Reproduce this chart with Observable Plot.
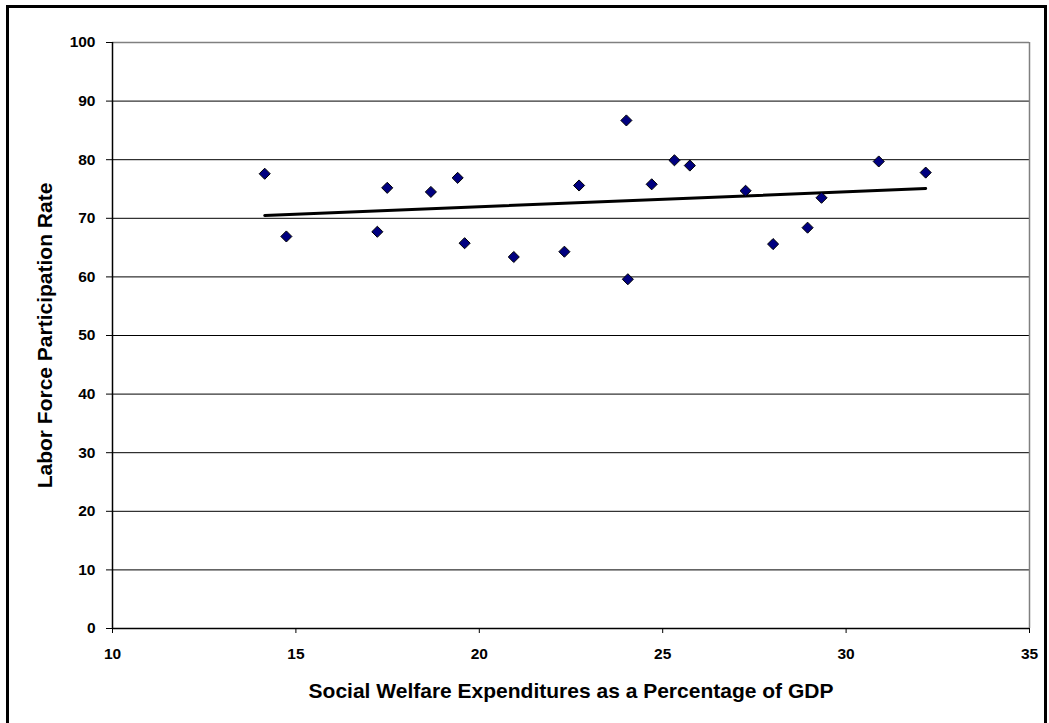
<!DOCTYPE html>
<html>
<head>
<meta charset="utf-8">
<script src="https://cdn.jsdelivr.net/npm/d3@7"></script>
<script src="https://cdn.jsdelivr.net/npm/@observablehq/plot@0.6"></script>
<style>
  html, body { margin: 0; padding: 0; background: #fff; overflow: hidden; }
  #wrap { position: relative; width: 1049px; height: 723px; overflow: hidden; }
  #border { position: absolute; left: 6px; top: 5px; width: 1041px; height: 760px; border: 3px solid #000; box-sizing: border-box; }
  #chart { position: absolute; left: 0; top: 0; }
</style>
</head>
<body>
<div id="wrap">
  <div id="border"></div>
  <div id="chart"></div>
</div>
<script>
// Social welfare expenditures (% of GDP)
const welfare = [14.15, 14.74, 17.22, 17.49, 18.68, 19.41, 19.60, 20.94, 22.32, 22.72, 24.01, 24.05, 24.70, 25.32, 25.74, 27.26, 28.01, 28.95, 29.33, 30.89, 32.17];
// Labor force participation rate
const participation = [77.6, 66.9, 67.7, 75.2, 74.5, 76.9, 65.75, 63.4, 64.3, 75.6, 86.7, 59.6, 75.8, 79.9, 79.0, 74.7, 65.6, 68.4, 73.5, 79.7, 77.8];
const xTicks = [10, 15, 20, 25, 30, 35];
const yTicks = [0, 10, 20, 30, 40, 50, 60, 70, 80, 90, 100];
const xTitle = "Social Welfare Expenditures as a Percentage of GDP";
const yTitle = "Labor Force Participation Rate";

const data = welfare.map((x, i) => ({x, y: participation[i]}));

const chart = Plot.plot({
  width: 1049,
  height: 723,
  marginLeft: 112,
  marginRight: 20,
  marginTop: 42,
  marginBottom: 95,
  style: {fontFamily: "'Liberation Sans', Arial, sans-serif", fontWeight: "bold", fontSize: "15.5px", color: "#000", background: "transparent"},
  x: {domain: [10, 35]},
  y: {domain: [0, 100]},
  marks: [
    Plot.gridY(yTicks.filter(d => d > 0 && d < 100), {stroke: "#000", strokeOpacity: 1, strokeWidth: 1}),
    Plot.ruleY([100], {stroke: "#808080", strokeWidth: 1.5}),
    Plot.ruleX([35], {stroke: "#808080", strokeWidth: 1.5}),
    Plot.ruleY([0], {stroke: "#000", strokeWidth: 1.5}),
    Plot.ruleX([10], {stroke: "#000", strokeWidth: 1.5}),
    Plot.axisY({ticks: yTicks, tickSize: 6, tickPadding: 11, label: null, stroke: "#000"}),
    Plot.axisX({ticks: xTicks, tickSize: 5, tickPadding: 14, label: null, stroke: "#000"}),
    Plot.linearRegressionY(data, {x: "x", y: "y", ci: 0, stroke: "#000", strokeWidth: 3}),
    Plot.dot(data, {x: "x", y: "y", symbol: "diamond2", r: 5, fill: "#000080", stroke: "#000", strokeWidth: 1}),
    Plot.text([yTitle], {frameAnchor: "left", dx: -67, rotate: -90, textAnchor: "middle", text: d => d, fontSize: 21, fontWeight: "bold", fill: "#000", lineAnchor: "middle"}),
    Plot.text([xTitle], {frameAnchor: "bottom", dy: 63, text: d => d, fontSize: 21, fontWeight: "bold", fill: "#000", lineAnchor: "middle"})
  ]
});
document.getElementById("chart").appendChild(chart);
</script>
</body>
</html>
